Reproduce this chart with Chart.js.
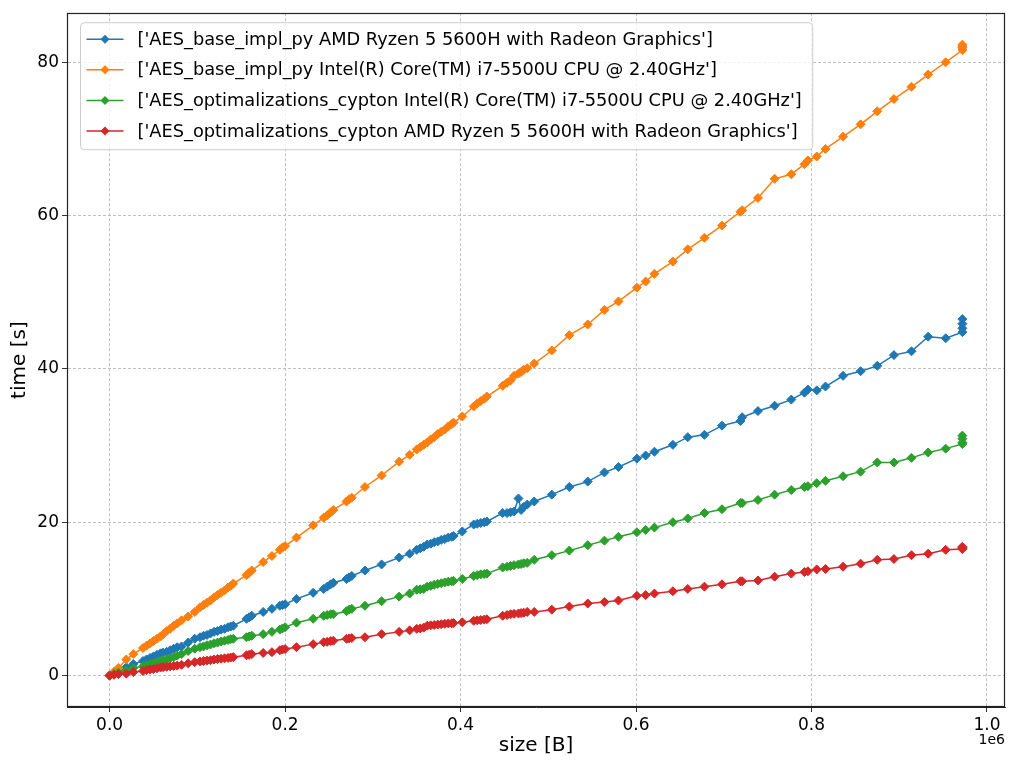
<!DOCTYPE html>
<html>
<head>
<meta charset="utf-8">
<script src="https://cdn.jsdelivr.net/npm/chart.js@4"></script>
<style>
  html, body { margin: 0; padding: 0; background: #fff; }
  #wrap { width: 1011px; height: 763px; }
</style>
</head>
<body>
<div id="wrap"><canvas id="timeChart"></canvas></div>
<script>
// file sizes in bytes (shared by all four runs)
var sizes = [
  0, 5000, 10000, 19000, 27000,
  38000, 42000, 46000, 50000, 54000, 58000, 61000,
  65000, 69000, 73000, 77000, 82000,
  89500, 97000,
  103000, 107000, 111000, 115000, 119000, 123000, 127000, 131000, 135000, 138000, 141000,
  156000, 159000, 162000,
  175000, 185000,
  194000, 197000, 200000,
  213000, 232000,
  244000, 248000, 252000, 255000,
  270000, 273000, 276000,
  291000, 310000, 330000, 342000,
  350000, 354000, 358000,
  362000, 366000, 370000, 374000, 378000, 382000, 386000, 390000, 392000,
  402000,
  415000, 419000, 423000, 427000, 430000,
  448000, 453000, 457000, 461000, 466000, 469000, 472000, 476000,
  484000,
  504000, 524000, 545000, 564000, 580000, 601000, 611000, 621000, 642000, 659000, 678000, 698000,
  719000, 721000, 739000, 758000, 777000, 792000, 796000, 806000, 816000, 836000, 856000, 875000, 894000, 914000, 933000, 953000,
  972000, 972000, 972000, 972000
];

// encryption time in seconds
var amdBase = [
  0, 0.3, 0.6, 1.1, 1.5,
  1.9, 2.1, 2.3, 2.5, 2.7, 2.9, 3.0,
  3.1, 3.3, 3.5, 3.7, 3.8,
  4.3, 4.8,
  5.0, 5.2, 5.3, 5.5, 5.7, 5.8, 6.0, 6.1, 6.3, 6.4, 6.5,
  7.4, 7.6, 7.8,
  8.3, 8.7,
  9.1, 9.2, 9.3,
  10.0, 10.8,
  11.3, 11.6, 11.9, 12.1,
  12.6, 12.8, 13.0,
  13.7, 14.5, 15.4, 15.9,
  16.4, 16.6, 16.8,
  17.1, 17.2, 17.4, 17.5, 17.7, 17.8, 18.0, 18.1, 18.2,
  18.8,
  19.7, 19.8, 19.9, 20.0, 20.1,
  21.2, 21.2, 21.3, 21.4, 23.1, 21.6, 22.0, 22.3,
  22.7,
  23.6, 24.6, 25.3, 26.5, 27.2, 28.3, 28.7, 29.2, 30.1, 31.1, 31.4, 32.6,
  33.2, 33.7, 34.5, 35.2, 36.0, 36.9, 37.3, 37.2, 37.7, 39.1, 39.7, 40.4, 41.8, 42.3, 44.2, 44.0,
  44.8, 45.3, 45.9, 46.5
];

var intelBase = [
  0, 0.5, 1.0, 2.1, 2.8,
  3.6, 3.9, 4.2, 4.5, 4.8, 5.1, 5.4,
  5.8, 6.1, 6.5, 6.8, 7.2,
  7.7, 8.3,
  8.9, 9.2, 9.5, 9.8, 10.2, 10.5, 10.8, 11.1, 11.5, 11.7, 12.0,
  13.1, 13.4, 13.7,
  14.8, 15.6,
  16.4, 16.7, 16.9,
  18.0, 19.6,
  20.6, 20.9, 21.3, 21.6,
  22.7, 23.0, 23.2,
  24.6, 26.1, 27.9, 28.8,
  29.5, 29.8, 30.1,
  30.4, 30.8, 31.1, 31.5, 31.8, 32.1, 32.5, 32.8, 33.0,
  33.8,
  35.1, 35.5, 35.8, 36.1, 36.4,
  37.8, 38.2, 38.5, 39.1, 39.4, 39.6, 39.9, 40.1,
  40.7,
  42.4, 44.4, 45.8, 47.7, 48.8, 50.6, 51.4, 52.4, 54.0, 55.6, 57.1, 58.7,
  60.5, 60.7, 62.3, 64.8, 65.4, 66.7, 67.2, 67.7, 68.7, 70.3, 71.9, 73.6, 75.2, 76.8, 78.4, 80.0,
  81.6, 81.9, 82.1, 82.3
];

var intelCypton = [
  0, 0.2, 0.35, 0.65, 1.0,
  1.2, 1.35, 1.5, 1.6, 1.75, 1.9, 2.0,
  2.1, 2.3, 2.4, 2.6, 2.8,
  3.2, 3.5,
  3.7, 3.8, 3.95, 4.05, 4.2, 4.3, 4.45, 4.55, 4.65, 4.75, 4.8,
  5.0, 5.1, 5.2,
  5.4, 5.7,
  6.0, 6.15, 6.3,
  6.9, 7.4,
  7.8, 7.9, 8.0, 8.0,
  8.4, 8.6, 8.7,
  9.1, 9.7, 10.3, 10.7,
  11.2, 11.25, 11.3,
  11.6, 11.7, 11.85, 11.95, 12.05, 12.15, 12.25, 12.3, 12.35,
  12.6,
  13.0, 13.1, 13.2, 13.25, 13.3,
  14.1, 14.2, 14.3, 14.4, 14.5, 14.55, 14.65, 14.7,
  15.1,
  15.7, 16.3, 17.0, 17.6, 18.1, 18.7, 19.0, 19.3, 20.0, 20.5, 21.2, 21.7,
  22.5, 22.5, 22.9, 23.6, 24.2, 24.6, 24.7, 25.1, 25.4, 26.0, 26.6, 27.8, 27.8, 28.4, 29.1, 29.6,
  30.2, 30.4, 30.9, 31.3
];

var amdCypton = [
  0, 0.1, 0.2, 0.25, 0.45,
  0.6, 0.7, 0.8, 0.85, 0.95, 1.05, 1.1,
  1.15, 1.2, 1.25, 1.3, 1.4,
  1.6, 1.75,
  1.85, 1.9, 1.95, 2.0, 2.1, 2.15, 2.2, 2.25, 2.3, 2.35, 2.4,
  2.65, 2.7, 2.8,
  2.95, 3.05,
  3.3, 3.4, 3.46,
  3.7, 4.1,
  4.35, 4.4, 4.5, 4.55,
  4.8, 4.85, 4.9,
  5.0, 5.4, 5.7, 5.9,
  6.1, 6.15, 6.25,
  6.5, 6.55, 6.6, 6.65, 6.7, 6.75, 6.8, 6.82, 6.85,
  6.95,
  7.15, 7.2, 7.25, 7.3, 7.35,
  7.8, 7.9, 8.0, 8.05, 8.1, 8.15, 8.2, 8.3,
  8.3,
  8.6, 9.0, 9.4, 9.6, 9.8, 10.4, 10.5, 10.7, 11.0, 11.3, 11.6, 11.9,
  12.3, 12.3, 12.4, 12.9, 13.3, 13.5, 13.6, 13.85, 13.9, 14.2, 14.6, 15.1, 15.2, 15.7, 15.9, 16.4,
  16.5, 16.6, 16.7, 16.8
];

var seriesLabels = [
  "['AES_base_impl_py AMD Ryzen 5 5600H with Radeon Graphics']",
  "['AES_base_impl_py Intel(R) Core(TM) i7-5500U CPU @ 2.40GHz']",
  "['AES_optimalizations_cypton Intel(R) Core(TM) i7-5500U CPU @ 2.40GHz']",
  "['AES_optimalizations_cypton AMD Ryzen 5 5600H with Radeon Graphics']"
];
var seriesColors = ['#1f77b4', '#ff7f0e', '#2ca02c', '#d62728'];

var xTicks = [0, 200000, 400000, 600000, 800000, 1000000];
var yTicks = [0, 20, 40, 60, 80];

var FONT = '"DejaVu Sans", "Liberation Sans", sans-serif';

function points(values) {
  return values.map(function(v, i) { return { x: sizes[i], y: v }; });
}

function makeDataset(i, values) {
  return {
    label: seriesLabels[i],
    data: points(values),
    borderColor: seriesColors[i],
    backgroundColor: seriesColors[i],
    borderWidth: 1.5,
    pointStyle: 'rectRot',
    pointRadius: 4.5,
    pointBorderWidth: 1,
    pointHoverRadius: 4.5,
    tension: 0,
    order: 3 - i   // later series drawn on top
  };
}

function drawDiamond(ctx, x, y, r) {
  ctx.beginPath();
  ctx.moveTo(x, y - r);
  ctx.lineTo(x + r, y);
  ctx.lineTo(x, y + r);
  ctx.lineTo(x - r, y);
  ctx.closePath();
  ctx.fill();
}

// box around the plot, matplotlib style legend and the 1e6 offset label
var framePlugin = {
  id: 'frame',
  afterDatasetsDraw: function(chart) {
    var ctx = chart.ctx, a = chart.chartArea;
    ctx.save();
    ctx.strokeStyle = '#222';
    ctx.lineWidth = 1.2;
    ctx.strokeRect(Math.round(a.left) + 0.5, Math.round(a.top) + 0.5,
      Math.round(a.right - a.left) - 1, Math.round(a.bottom - a.top) - 1);

    // legend
    ctx.font = '17.8px ' + FONT;
    var maxW = 0;
    seriesLabels.forEach(function(t) { maxW = Math.max(maxW, ctx.measureText(t).width); });
    var bx = a.left + 13.5, by = a.top + 9.5;
    var bw = 57 + maxW + 11, bh = 127;
    ctx.fillStyle = 'rgba(255,255,255,0.8)';
    ctx.strokeStyle = '#cccccc';
    ctx.lineWidth = 1;
    ctx.beginPath();
    ctx.roundRect(bx, by, bw, bh, 4);
    ctx.fill();
    ctx.stroke();
    seriesLabels.forEach(function(t, i) {
      var ry = by + 16.5 + i * 30.6;
      ctx.strokeStyle = seriesColors[i];
      ctx.fillStyle = seriesColors[i];
      ctx.lineWidth = 1.5;
      ctx.beginPath();
      ctx.moveTo(bx + 6, ry);
      ctx.lineTo(bx + 43, ry);
      ctx.stroke();
      drawDiamond(ctx, bx + 24.5, ry, 4.5);
      ctx.fillStyle = '#000';
      ctx.textBaseline = 'middle';
      ctx.textAlign = 'left';
      ctx.fillText(t, bx + 57, ry + 1);
    });

    // offset text of the x axis
    ctx.font = '14px ' + FONT;
    ctx.fillStyle = '#000';
    ctx.textAlign = 'right';
    ctx.textBaseline = 'middle';
    ctx.fillText('1e6', a.right, a.bottom + 33);
    ctx.restore();
  }
};

document.addEventListener('DOMContentLoaded', function() {
  new Chart(document.getElementById('timeChart').getContext('2d'), {
    type: 'line',
    data: {
      datasets: [
        makeDataset(0, amdBase),
        makeDataset(1, intelBase),
        makeDataset(2, intelCypton),
        makeDataset(3, amdCypton)
      ]
    },
    options: {
      responsive: true,
      maintainAspectRatio: false,
      animation: false,
      devicePixelRatio: 1,
      layout: { padding: { top: 10, right: 6, left: 0, bottom: 0 } },
      plugins: {
        legend: { display: false },
        tooltip: { enabled: false }
      },
      scales: {
        x: {
          type: 'linear',
          min: -48600,
          max: 1020600,
          afterBuildTicks: function(s) { s.ticks = xTicks.map(function(v) { return { value: v }; }); },
          afterFit: function(s) { s.height = 56; },
          ticks: {
            callback: function(v) { return (v / 1e6).toFixed(1); },
            color: '#000',
            font: { family: FONT, size: 17 },
            padding: 3,
            maxRotation: 0
          },
          grid: { color: '#b0b0b0', lineWidth: 0.8, tickColor: '#000', tickLength: 5 },
          border: { color: '#222', width: 1, dash: [3, 2] },
          title: {
            display: true, text: 'size [B]', color: '#000',
            font: { family: FONT, size: 20 }, padding: { top: 0, bottom: 5 }
          }
        },
        y: {
          type: 'linear',
          min: -4.1,
          max: 86.4,
          afterBuildTicks: function(s) { s.ticks = yTicks.map(function(v) { return { value: v }; }); },
          afterFit: function(s) { s.width = 67; },
          ticks: {
            color: '#000',
            font: { family: FONT, size: 17 },
            padding: 3
          },
          grid: { color: '#b0b0b0', lineWidth: 0.8, tickColor: '#000', tickLength: 5 },
          border: { color: '#222', width: 1, dash: [3, 2] },
          title: {
            display: true, text: 'time [s]', color: '#000',
            font: { family: FONT, size: 20 }, padding: { top: 8, bottom: 0 }
          }
        }
      }
    },
    plugins: [framePlugin]
  });
});
</script>
</body>
</html>
